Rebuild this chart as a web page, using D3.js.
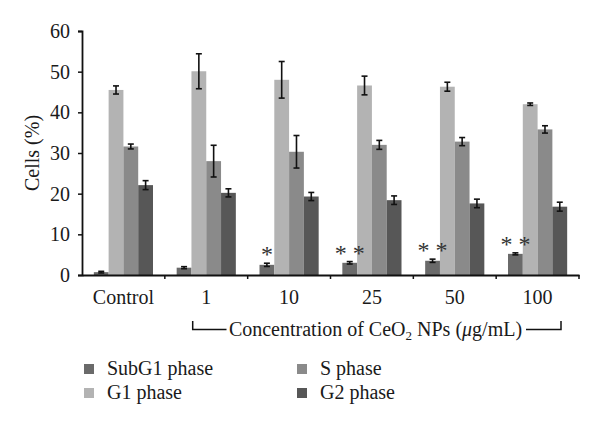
<!DOCTYPE html>
<html>
<head>
<meta charset="utf-8">
<script src="https://cdn.jsdelivr.net/npm/d3@7"></script>
<style>
  html, body { margin: 0; padding: 0; background: #fff; }
  svg { display: block; }
  text { font-family: "Liberation Serif", "DejaVu Serif", serif; fill: #1a1a1a; }
</style>
</head>
<body>
<svg id="chart" width="600" height="428"></svg>
<script>
const groups = ["Control", "1", "10", "25", "50", "100"];
const series = ["SubG1 phase", "G1 phase", "S phase", "G2 phase"];
const colors = ["#6a6a6a", "#b3b3b3", "#8a8a8a", "#575757"];

const subG1 = [0.7, 1.8, 2.5, 3.0, 3.5, 5.2];
const subG1Err = [0.2, 0.25, 0.4, 0.3, 0.4, 0.25];
const g1 = [45.5, 50.1, 48.0, 46.6, 46.3, 42.0];
const g1Err = [1.0, 4.3, 4.5, 2.3, 1.1, 0.3];
const sPhase = [31.6, 28.0, 30.3, 32.0, 32.8, 35.8];
const sErr = [0.6, 3.9, 4.0, 1.1, 1.0, 0.9];
const g2 = [22.1, 20.2, 19.3, 18.4, 17.6, 16.8];
const g2Err = [1.1, 1.0, 1.0, 1.05, 1.05, 1.1];
const stars = ["", "", "*", "* *", "* *", "* *"];

const yTicks = [0, 10, 20, 30, 40, 50, 60];

const values = [subG1, g1, sPhase, g2];
const errors = [subG1Err, g1Err, sErr, g2Err];

const svg = d3.select("#chart");
const mLeft = 82, mRight = 579, mTop = 31, mBottom = 275;

const x0 = d3.scaleBand().domain(groups).range([mLeft, mRight]).paddingInner(0).paddingOuter(0);
const x1 = d3.scaleBand().domain(series).range([0, x0.bandwidth()]).paddingInner(0).paddingOuter(0.8);
const y = d3.scaleLinear().domain([0, 60]).range([mBottom, mTop]);

// bars
const data = [];
groups.forEach((g, gi) => {
  series.forEach((s, si) => {
    data.push({ g, s, si, v: values[si][gi], e: errors[si][gi] });
  });
});

svg.append("g").selectAll("rect").data(data).join("rect")
  .attr("x", d => x0(d.g) + x1(d.s))
  .attr("y", d => y(d.v))
  .attr("width", x1.bandwidth())
  .attr("height", d => y(0) - y(d.v))
  .attr("fill", d => colors[d.si]);

// error bars
const eb = svg.append("g").attr("stroke", "#111").attr("stroke-width", 1.6);
data.forEach(d => {
  const cx = x0(d.g) + x1(d.s) + x1.bandwidth() / 2;
  eb.append("line").attr("x1", cx).attr("x2", cx).attr("y1", y(d.v + d.e)).attr("y2", y(d.v - d.e));
  eb.append("line").attr("x1", cx - 3).attr("x2", cx + 3).attr("y1", y(d.v + d.e)).attr("y2", y(d.v + d.e));
  eb.append("line").attr("x1", cx - 3).attr("x2", cx + 3).attr("y1", y(d.v - d.e)).attr("y2", y(d.v - d.e));
});

// stars
groups.forEach((g, gi) => {
  if (!stars[gi]) return;
  const cx = x0(g) + x1(series[0]) + x1.bandwidth() / 2;
  svg.append("text")
    .attr("x", cx)
    .attr("y", y(subG1[gi] + subG1Err[gi]) - 1)
    .attr("text-anchor", "middle")
    .style("font-size", "24px")
    .style("fill", "#333")
    .text(stars[gi]);
});

// y axis
const yAxis = svg.append("g").attr("transform", `translate(${mLeft},0)`)
  .call(d3.axisLeft(y).tickValues(yTicks).tickSize(4).tickPadding(8));
yAxis.select(".domain").attr("stroke", "#111").attr("stroke-width", 1.8);
yAxis.selectAll(".tick line").attr("stroke", "#111").attr("stroke-width", 1.5);
yAxis.selectAll(".tick text").style("font-size", "20px").attr("fill", "#1a1a1a");

// x axis
const xAxis = svg.append("g").attr("transform", `translate(0,${mBottom})`)
  .call(d3.axisBottom(x0).tickSize(0).tickPadding(15));
xAxis.select(".domain").attr("stroke", "#111").attr("stroke-width", 1.8);
xAxis.selectAll(".tick text").style("font-size", "20px").attr("fill", "#1a1a1a");
// boundary ticks
const bounds = groups.slice(1).map(g => x0(g)).concat([mRight]);
svg.append("g").selectAll("line").data(bounds).join("line")
  .attr("x1", d => d).attr("x2", d => d)
  .attr("y1", mBottom).attr("y2", mBottom + 4)
  .attr("stroke", "#111").attr("stroke-width", 1.5);

// y label
svg.append("text")
  .attr("transform", `translate(39,${(mTop + mBottom) / 2}) rotate(-90)`)
  .attr("text-anchor", "middle")
  .style("font-size", "20px")
  .text("Cells (%)");

// bracket and concentration label
const bx1 = 192.7, bx2 = 561, by = 329.5, byTop = 321;
svg.append("path")
  .attr("d", `M${bx1},${byTop}V${by}H226.5M526,${by}H${bx2}V${byTop}`)
  .attr("fill", "none").attr("stroke", "#111").attr("stroke-width", 1.5);
const lab = svg.append("text")
  .attr("x", (229 + 522) / 2).attr("y", 336)
  .attr("text-anchor", "middle")
  .style("font-size", "20px");
lab.append("tspan").text("Concentration of CeO");
lab.append("tspan").style("font-size", "13px").attr("dy", 4).text("2");
lab.append("tspan").attr("dy", -4).text(" NPs (");
lab.append("tspan").attr("font-style", "italic").text("μ");
lab.append("tspan").text("g/mL)");

// legend
const legendPos = [
  { x: 84, y: 374 },
  { x: 84, y: 398 },
  { x: 297, y: 374 },
  { x: 297, y: 398 }
];
series.forEach((s, i) => {
  const p = legendPos[i];
  svg.append("rect").attr("x", p.x).attr("y", p.y - 10).attr("width", 10).attr("height", 10).attr("fill", colors[i]);
  svg.append("text").attr("x", p.x + 23).attr("y", p.y + 1).style("font-size", "20px").text(s);
});
</script>
</body>
</html>
